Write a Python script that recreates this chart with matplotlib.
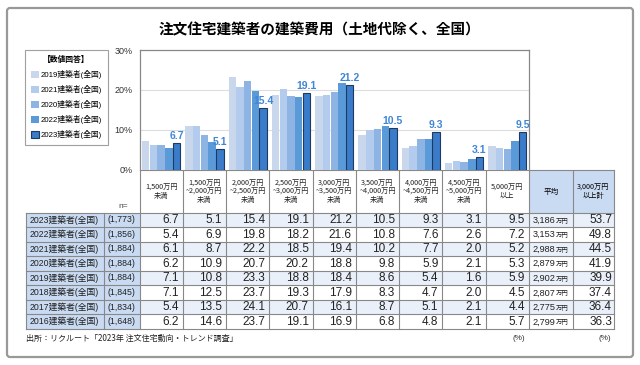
import matplotlib.pyplot as plt
from matplotlib.patches import Rectangle, FancyBboxPatch
import numpy as np

plt.rcParams['font.family'] = ['Liberation Sans', 'Noto Sans CJK JP', 'DejaVu Sans']

title = '注文住宅建築者の建築費用（土地代除く、全国）'
categories = ['1,500万円\n未満', '1,500万円\n~2,000万円\n未満', '2,000万円\n~2,500万円\n未満',
              '2,500万円\n~3,000万円\n未満', '3,000万円\n~3,500万円\n未満', '3,500万円\n~4,000万円\n未満',
              '4,000万円\n~4,500万円\n未満', '4,500万円\n~5,000万円\n未満', '5,000万円\n以上']
row_labels = ['2023建築者(全国)', '2022建築者(全国)', '2021建築者(全国)', '2020建築者(全国)',
              '2019建築者(全国)', '2018建築者(全国)', '2017建築者(全国)', '2016建築者(全国)']
sample_n = ['(1,773)', '(1,856)', '(1,884)', '(1,884)', '(1,884)', '(1,845)', '(1,834)', '(1,648)']
shares = [
    [6.7, 5.1, 15.4, 19.1, 21.2, 10.5, 9.3, 3.1, 9.5],
    [5.4, 6.9, 19.8, 18.2, 21.6, 10.8, 7.6, 2.6, 7.2],
    [6.1, 8.7, 22.2, 18.5, 19.4, 10.2, 7.7, 2.0, 5.2],
    [6.2, 10.9, 20.7, 20.2, 18.8, 9.8, 5.9, 2.1, 5.3],
    [7.1, 10.8, 23.3, 18.8, 18.4, 8.6, 5.4, 1.6, 5.9],
    [7.1, 12.5, 23.7, 19.3, 17.9, 8.3, 4.7, 2.0, 4.5],
    [5.4, 13.5, 24.1, 20.7, 16.1, 8.7, 5.1, 2.1, 4.4],
    [6.2, 14.6, 23.7, 19.1, 16.9, 6.8, 4.8, 2.1, 5.7],
]
average = ['3,186', '3,153', '2,988', '2,879', '2,902', '2,807', '2,775', '2,799']
over_3000 = [53.7, 49.8, 44.5, 41.9, 39.9, 37.4, 36.4, 36.3]
legend_labels = ['2019建築者(全国)', '2021建築者(全国)', '2020建築者(全国)',
                 '2022建築者(全国)', '2023建築者(全国)']
chart_rows = [4, 3, 2, 1, 0]   # 2019..2023 rows in the table
bar_colors = ['#c9d7ec', '#b3cced', '#8db4e3', '#5b9ad9', '#3a7cc9']
source = '出所：リクルート「2023年 注文住宅動向・トレンド調査」'

W, H = 640, 365
fig = plt.figure(figsize=(6.4, 3.65), dpi=100)

# overlay in pixel coords for frame + table
ov = fig.add_axes([0, 0, 1, 1], zorder=0)
ov.set_xlim(0, W)
ov.set_ylim(H, 0)
ov.axis('off')
ov.add_patch(FancyBboxPatch((7, 8), 626, 349, boxstyle='round,pad=0,rounding_size=3',
                            fc='white', ec='#999999', lw=1.6))
ov.text(320, 29, title, ha='center', va='center', fontsize=10.5, fontweight='bold',
        family=['Noto Sans CJK JP'])

# chart
x0, x1, ytop, ybot = 139.5, 529, 50, 169.5
ax = fig.add_axes([x0 / W, 1 - ybot / H, (x1 - x0) / W, (ybot - ytop) / H], zorder=2)
ncat = len(categories)
xs = np.arange(ncat) + 0.5
bw = 0.172
handles = []
for k, r in enumerate(chart_rows):
    ec = '#1f3a60' if k == 4 else 'none'
    b = ax.bar(xs + (k - 2) * 0.178, shares[r], width=bw, color=bar_colors[k],
               edgecolor=ec, linewidth=0.8 if k == 4 else 0, zorder=3)
    handles.append(b)
for i, v in enumerate(shares[0]):
    ax.text(xs[i] + 2 * 0.178, v + 0.5, f'{v:.1f}', ha='center', va='bottom',
            fontsize=7.5, color='#3f86d6', fontweight='bold', zorder=4)
ax.set_xlim(0, ncat)
ax.set_ylim(0, 30)
ax.set_yticks([0, 10, 20, 30])
ax.set_yticklabels(['0%', '10%', '20%', '30%'], fontsize=6.5, color='#333333')
ax.tick_params(axis='y', length=0, pad=5)
ax.set_xticks([])
ax.grid(axis='y', color='#dddddd', lw=0.8, zorder=0)
for s in ['top', 'right', 'left']:
    ax.spines[s].set_color('#888888')
    ax.spines[s].set_linewidth(0.9)
ax.spines['bottom'].set_visible(False)

leg = ax.legend(handles, legend_labels, title='【数値回答】', loc='upper left',
                bbox_to_anchor=(25 / W, 1 - 50 / H), bbox_transform=fig.transFigure,
                fontsize=5.6, title_fontsize=5.6, frameon=True, fancybox=False,
                edgecolor='#888888', handlelength=1.0, handleheight=1.0,
                handletextpad=0.3, labelspacing=0.78, borderpad=0.75, borderaxespad=0)
leg.get_frame().set_linewidth(0.8)
leg.get_title().set_fontweight('bold')

# table
line_c = '#888888'
col_edges = list(np.linspace(x0, x1, ncat + 1)) + [573, 614]
head_top, head_bot = ybot, 212.5
row_h = 14.55
label_l, n_l = 25.5, 103.5
nrows = len(row_labels)
table_bot = head_bot + nrows * row_h

# header cells
for i, cat in enumerate(categories):
    ov.text((col_edges[i] + col_edges[i + 1]) / 2, 191.5, cat, ha='center', va='center',
            fontsize=5.2, linespacing=1.05, color='#222222', family=['Noto Sans CJK JP'])
ov.add_patch(Rectangle((col_edges[9], head_top), col_edges[11] - col_edges[9],
                       head_bot - head_top, fc='#c9dbf2', ec='none'))
ov.text((col_edges[9] + col_edges[10]) / 2, 191.5, '平均', ha='center', va='center',
        fontsize=5.5, family=['Noto Sans CJK JP'])
ov.text((col_edges[10] + col_edges[11]) / 2, 191.5, '3,000万円\n以上計', ha='center', va='center',
        fontsize=5.2, linespacing=1.05, family=['Noto Sans CJK JP'])
ov.text(123, 206, 'n=', ha='center', va='center', fontsize=6, color='#444444')

# body rows
for r in range(nrows):
    yt = head_bot + r * row_h
    yc = yt + row_h / 2
    ov.add_patch(Rectangle((label_l, yt), x0 - label_l, row_h, fc='#c9dbf2', ec='none'))
    if r % 2 == 0:
        ov.add_patch(Rectangle((x0, yt), col_edges[-1] - x0, row_h, fc='#eaf0fa', ec='none'))
    ov.text(64.5, yc, row_labels[r], ha='center', va='center', fontsize=6.3, color='#222222')
    ov.text(121.5, yc, sample_n[r], ha='center', va='center', fontsize=6.3, color='#222222')
    for i, v in enumerate(shares[r]):
        ov.text(col_edges[i + 1] - 4, yc + 0.3, f'{v:.1f}', ha='right', va='center',
                fontsize=8.5, color='#222222')
    ov.text(555, yc + 0.3, average[r], ha='right', va='center', fontsize=6.6, color='#222222')
    ov.text(555.5, yc + 0.8, '万円', ha='left', va='center', fontsize=4.6, color='#222222',
            family=['Noto Sans CJK JP'])
    ov.text(col_edges[-1] - 2, yc + 0.3, f'{over_3000[r]:.1f}', ha='right', va='center',
            fontsize=8.5, color='#222222')

# grid lines of the table
for r in range(nrows + 1):
    y = head_bot + r * row_h
    ov.plot([label_l, col_edges[-1]], [y, y], color=line_c, lw=0.8)
ov.plot([x0, col_edges[-1]], [head_top, head_top], color=line_c, lw=0.8)
for xe in [label_l, n_l]:
    ov.plot([xe, xe], [head_bot, table_bot], color=line_c, lw=0.8)
for xe in col_edges:
    ov.plot([xe, xe], [head_top, table_bot], color=line_c, lw=0.8)

ov.text(26, 338, source, ha='left', va='center', fontsize=5.8, color='#222222',
        family=['Noto Sans CJK JP'])
ov.text(519, 338, '(%)', ha='center', va='center', fontsize=5.8, color='#333333')
ov.text(605, 338, '(%)', ha='center', va='center', fontsize=5.8, color='#333333')

fig.savefig('out.png', dpi=100)
